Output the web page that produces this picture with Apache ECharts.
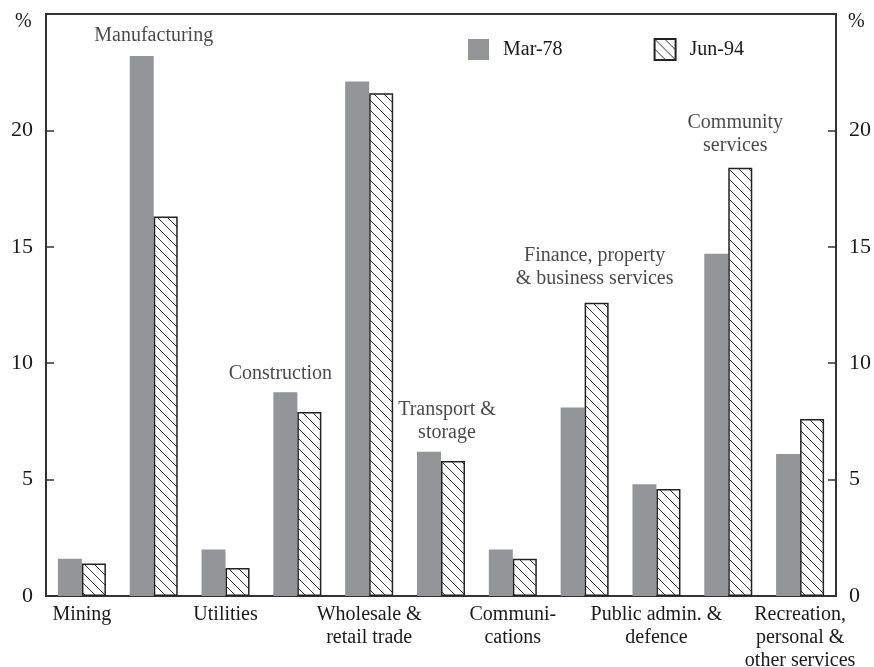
<!DOCTYPE html>
<html>
<head>
<meta charset="utf-8">
<script src="https://cdn.jsdelivr.net/npm/echarts@6/dist/echarts.min.js"></script>
<style>
  html, body { margin: 0; padding: 0; background: #fff; }
  #chart { width: 874px; height: 667px; }
</style>
</head>
<body>
<div id="chart"></div>
<script>
// ---- data ----
const categories = [
  'Mining', 'Manufacturing', 'Utilities', 'Construction', 'Wholesale & retail trade',
  'Transport & storage', 'Communications', 'Finance, property & business services',
  'Public admin. & defence', 'Community services', 'Recreation, personal & other services'
];
const bottomLabels = [
  'Mining', '', 'Utilities', '', 'Wholesale &\nretail trade', '',
  'Communi-\ncations', '', 'Public admin. &\ndefence', '', 'Recreation,\npersonal &\nother services'
];
const topLabels = [
  '', 'Manufacturing', '', 'Construction', '', 'Transport &\nstorage',
  '', 'Finance, property\n& business services', '', 'Community\nservices', ''
];
const seriesNames = ['Mar-78', 'Jun-94'];
const mar78 = [1.6, 23.2, 2.0, 8.75, 22.1, 6.2, 2.0, 8.1, 4.8, 14.7, 6.1];
const jun94 = [1.4, 16.3, 1.2, 7.9, 21.6, 5.8, 1.6, 12.6, 4.6, 18.4, 7.6];
const yTicks = [0, 5, 10, 15, 20, 25];

// ---- layout tweaks for the annotation labels (pixel nudges) ----
const labelNudge = { 1: [0, -1], 3: [-17, 1], 5: [6, 1], 7: [10, -4], 9: [7, -2] };

// ---- hatch pattern ----
function makeHatch() {
  const s = 10;
  const c = document.createElement('canvas');
  c.width = s; c.height = s;
  const g = c.getContext('2d');
  g.fillStyle = '#ffffff';
  g.fillRect(0, 0, s, s);
  g.strokeStyle = '#333333';
  g.lineWidth = 1;
  g.beginPath();
  g.moveTo(0, 0); g.lineTo(s, s);
  g.moveTo(-2, s - 2); g.lineTo(2, s + 2);
  g.moveTo(s - 2, -2); g.lineTo(s + 2, 2);
  g.stroke();
  return c;
}

const FONT = 'Liberation Serif';
const TXT = '#1a1a1a';
const chart = echarts.init(document.getElementById('chart'), null, { renderer: 'canvas' });

const labelPoints = topLabels.map((t, i) => t ? {
  value: [i, Math.max(mar78[i], jun94[i])],
  label: { offset: labelNudge[i] || [0, 0] }
} : null).filter(Boolean);

const yAxisCommon = {
  type: 'value',
  min: yTicks[0],
  max: yTicks[yTicks.length - 1],
  interval: 5,
  axisLine: { show: true, lineStyle: { color: '#333', width: 2 } },
  axisTick: { show: true, inside: true, length: 8, lineStyle: { color: '#333', width: 1.5 } },
  splitLine: { show: false },
  axisLabel: {
    fontFamily: FONT, fontSize: 22, color: TXT, margin: 13,
    formatter: v => (v === yTicks[yTicks.length - 1] ? '' : String(v))
  }
};

chart.setOption({
  animation: false,
  backgroundColor: '#fff',
  textStyle: { fontFamily: FONT },
  grid: {
    left: 46, right: 38, top: 14, bottom: 71,
    containLabel: false, outerBoundsMode: 'none',
    show: true, borderColor: '#333', borderWidth: 2, backgroundColor: 'transparent'
  },
  legend: {
    data: seriesNames,
    left: 468, top: 38,
    itemWidth: 21, itemHeight: 21, itemGap: 91,
    icon: 'rect',
    padding: 0,
    textStyle: { fontFamily: FONT, fontSize: 20, color: TXT, padding: [0, 0, 0, 9] }
  },
  graphic: [
    { type: 'text', left: 15, top: 12, style: { text: '%', font: '20px "Liberation Serif"', fill: TXT } },
    { type: 'text', left: 848, top: 12, style: { text: '%', font: '20px "Liberation Serif"', fill: TXT } }
  ],
  xAxis: {
    type: 'category',
    data: categories,
    axisLine: { show: true, lineStyle: { color: '#333', width: 2 } },
    axisTick: { show: false },
    axisLabel: {
      interval: 0, margin: 7,
      fontFamily: FONT, fontSize: 20, lineHeight: 23, color: TXT,
      formatter: (v, i) => bottomLabels[i]
    }
  },
  yAxis: [
    Object.assign({ position: 'left' }, yAxisCommon),
    Object.assign({ position: 'right' }, yAxisCommon)
  ],
  series: [
    {
      name: seriesNames[0], type: 'bar', data: mar78,
      barWidth: 24, barGap: '0%',
      itemStyle: { color: '#939598' }
    },
    {
      name: seriesNames[1], type: 'bar', data: jun94,
      barWidth: 24, barGap: '0%',
      itemStyle: { color: { image: makeHatch(), repeat: 'repeat' }, borderColor: '#222', borderWidth: 1.5 }
    },
    {
      name: 'labels', type: 'scatter', data: labelPoints,
      symbolSize: 0, silent: true,
      label: {
        show: true, position: 'top', distance: 8,
        fontFamily: FONT, fontSize: 20, lineHeight: 23, color: TXT, align: 'center',
        formatter: p => topLabels[p.value[0]]
      }
    }
  ]
});
</script>
</body>
</html>
